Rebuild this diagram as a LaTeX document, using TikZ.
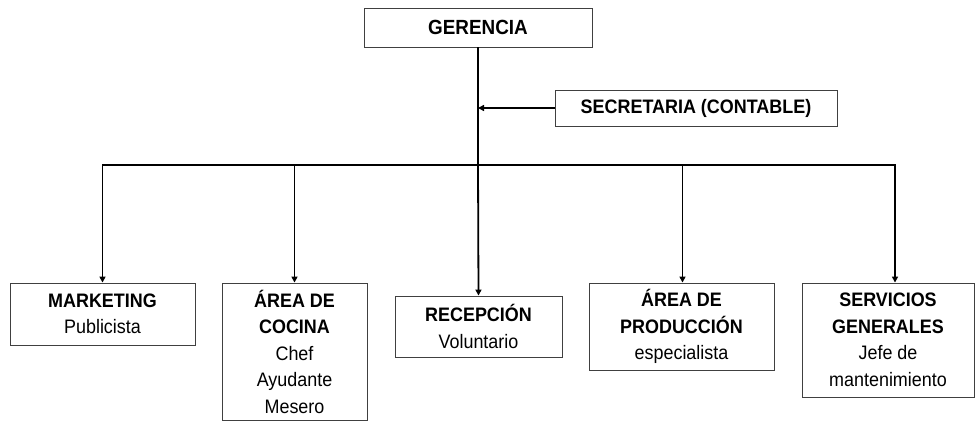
\documentclass[tikz,border=0pt]{standalone}
\usepackage{fontspec}
\setmainfont{Liberation Sans}[FakeStretch=0.92]
\usetikzlibrary{arrows.meta}

\begin{document}
\begin{tikzpicture}[x=1pt,y=-1pt,
 caja/.style={draw=black!75,line width=0.9pt,align=center,inner sep=2pt,
  font=\fontsize{19.5}{26.5}\selectfont},
 linea/.style={line width=1.8pt},
 flecha/.style={line width=1.8pt,-{Triangle[length=6pt,width=6pt]}}]
 \useasboundingbox (0,0) rectangle (975,421);

 \node (ger) at (478,27.5) [caja,minimum width=228pt,minimum height=39pt,font=\fontsize{20.5}{26.5}\selectfont] {\textbf{GERENCIA}}; % arriba
 \node (sec) at (696,108) [caja,minimum width=282pt,minimum height=36pt] {\textbf{SECRETARIA (CONTABLE)}}; % a la derecha

 \node (mkt) at (102.5,314) [caja,minimum width=185pt,minimum height=62pt] {\textbf{MARKETING}\\Publicista};
 \node (coc) at (294.5,351.5) [caja,minimum width=145pt,minimum height=137pt] {\textbf{ÁREA DE}\\\textbf{COCINA}\\Chef\\Ayudante\\Mesero};
 \node (rec) at (478.5,326.5) [caja,minimum width=167pt,minimum height=61pt] {\textbf{RECEPCIÓN}\\Voluntario};
 \node (pro) at (681.5,326.5) [caja,minimum width=185pt,minimum height=87pt] {\textbf{ÁREA DE}\\\textbf{PRODUCCIÓN}\\especialista};
 \node (srv) at (888,340) [caja,minimum width=172pt,minimum height=114pt] {\textbf{SERVICIOS}\\\textbf{GENERALES}\\Jefe de\\mantenimiento};

 \coordinate (bar) at (478,165); % cruce con la barra

 \draw [linea] (ger) -- (bar);
 \draw [flecha] (sec.west) -- (sec.west -| bar);
 \draw [flecha] (bar) -| (mkt.north);
 \draw [flecha] (bar) -| (coc.north);
 \draw [flecha] (bar) -- (rec.north);
 \draw [flecha] (bar) -| ([xshift=1pt]pro.north);
 \draw [flecha] (bar) -| ([xshift=7pt]srv.north);
\end{tikzpicture}
\end{document}
